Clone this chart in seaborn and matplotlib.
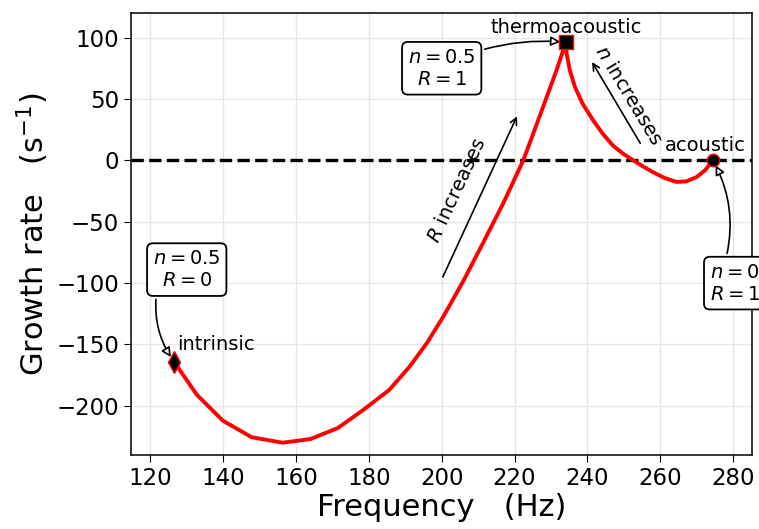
import matplotlib
matplotlib.use("Agg")
import matplotlib.pyplot as plt
import seaborn as sns

# --- data ---
# sweep of R (n = 0.5) : intrinsic -> thermoacoustic
freq_R = [126.5, 132.8, 139.9, 147.8, 156.3, 164.0, 171.5, 178.6, 185.6, 191.2,
          195.9, 200.5, 206.0, 211.4, 216.9, 222.4, 227.9, 231.6, 234.1]
growth_R = [-164, -191, -212, -225.5, -230, -227, -218, -203, -187, -168,
            -149, -127, -98, -67, -35, 0, 44, 74, 96.2]
# sweep of n (R = 1) : acoustic -> thermoacoustic
freq_n = [274.5, 272.3, 270.0, 267.2, 264.5, 261.3, 258.1, 255.3, 252.6, 249.9,
          247.1, 244.2, 241.6, 238.7, 236.6, 235.2, 234.3, 234.1]
growth_n = [0, -8.1, -13.6, -17.1, -17.6, -14.5, -9.8, -5.0, 0, 5.2,
            11.8, 21.7, 32.5, 46.1, 59.6, 73.2, 86.7, 96.2]

pt_names = ["intrinsic", "thermoacoustic", "acoustic"]
pt_freq = [126.5, 234.1, 274.5]
pt_growth = [-164, 96.2, 0]
pt_boxes = ["$n = 0.5$\n$R = 0$", "$n = 0.5$\n$R = 1$", "$n = 0$\n$R = 1$"]
box_pos = [(130, -89), (200, 75), (280.5, -100)]

xticks = [120, 140, 160, 180, 200, 220, 240, 260, 280]
yticks = [-200, -150, -100, -50, 0, 50, 100]

sns.set_theme(style="ticks", rc={
    "axes.grid": True, "grid.color": "#e6e6e6", "grid.linewidth": 1.0,
    "axes.edgecolor": "black", "axes.linewidth": 1.1,
    "xtick.direction": "out", "ytick.direction": "out",
    "xtick.major.size": 5, "ytick.major.size": 5,
    "xtick.major.width": 0.8, "ytick.major.width": 0.8,
    "xtick.color": "black", "ytick.color": "black",
    "text.color": "black", "axes.labelcolor": "black",
})
plt.rcParams["font.family"] = ["DejaVu Sans"]
plt.rcParams["mathtext.fontset"] = "dejavusans"

fig, ax = plt.subplots(figsize=(7.59, 5.29), dpi=100)
fig.subplots_adjust(left=0.1726, right=0.9908, bottom=0.1399, top=0.9754)

ax.axhline(0, color="black", lw=2.4, ls="--", zorder=2)

sns.lineplot(x=freq_R, y=growth_R, sort=False, estimator=None, color="red",
             lw=2.8, ax=ax, zorder=3)
sns.lineplot(x=freq_n, y=growth_n, sort=False, estimator=None, color="red",
             lw=2.8, ax=ax, zorder=3)

markers = ["d", "s", "o"]
msizes = [11, 10, 9]
for f, g, m, s in zip(pt_freq, pt_growth, markers, msizes):
    ax.plot([f], [g], marker=m, ms=s, mfc="black", mec="red", mew=1.0,
            ls="none", zorder=4, clip_on=False)

# labels of the special points
ax.text(127.3, -154.5, pt_names[0], fontsize=14, ha="left", va="baseline")
ax.text(234.1, 103.5, pt_names[1], fontsize=14, ha="center", va="baseline")
ax.text(272.4, 8, pt_names[2], fontsize=14, ha="center", va="baseline")

bbox = dict(boxstyle="round,pad=0.3", fc="white", ec="black", lw=1.3)
rads = [0.2, -0.1, 0.2]
relposs = [(0.06, 0.0), (1.0, 0.9), (0.3, 1.0)]
for txt, (tx, ty), f, g, r, rp in zip(pt_boxes, box_pos, pt_freq, pt_growth, rads, relposs):
    ax.annotate(txt, xy=(f, g), xytext=(tx, ty), fontsize=14, ha="center",
                va="center", multialignment="center", bbox=bbox,
                annotation_clip=False,
                arrowprops=dict(arrowstyle="-|>", fc="white", ec="black", lw=1.2,
                                connectionstyle=f"arc3,rad={r}", relpos=rp,
                                shrinkB=4))

# trend arrows
ax.annotate("", xy=(221, 38), xytext=(200, -97),
            arrowprops=dict(arrowstyle="->", color="black", lw=1.2))
ax.text(204.2, -24.4, "$R$ increases", fontsize=14, rotation=65,
        ha="center", va="center")
ax.annotate("", xy=(240.9, 82), xytext=(254.9, 12),
            arrowprops=dict(arrowstyle="->", color="black", lw=1.2))
ax.text(251.2, 52.8, "$n$ increases", fontsize=14, rotation=-59,
        ha="center", va="center")

ax.set_xlim(114.7, 285.2)
ax.set_ylim(-240, 120)
ax.set_xticks(xticks)
ax.set_yticks(yticks)
ax.tick_params(labelsize=16.5)
ax.set_xlabel("Frequency   (Hz)", fontsize=22, labelpad=2)
ax.set_ylabel("Growth rate   (s$^{-1}$)", fontsize=22)

fig.savefig("out.png", dpi=100)
